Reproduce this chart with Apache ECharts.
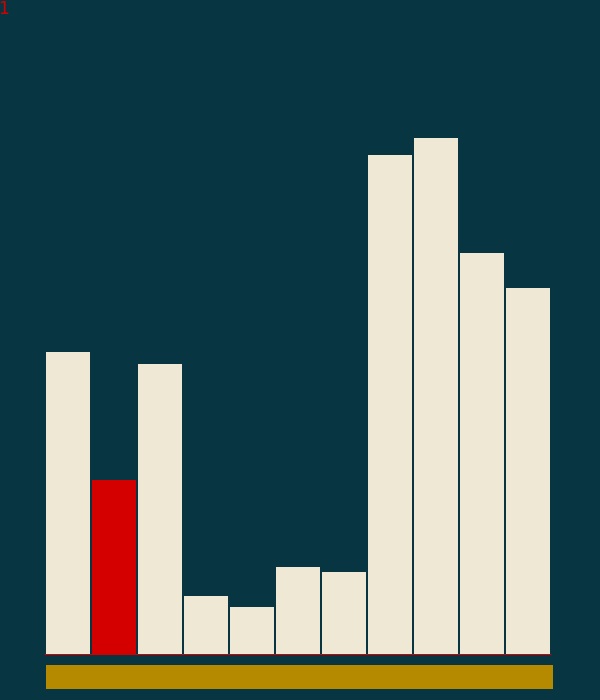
<!DOCTYPE html>
<html><head><meta charset="utf-8">
<script src="https://cdn.jsdelivr.net/npm/echarts@6/dist/echarts.min.js"></script>
<style>html,body{margin:0;padding:0;background:#073642}#c{width:600px;height:700px}</style>
</head><body><div id="c"></div>
<script>
const categories = ['0','1','2','3','4','5','6','7','8','9','10'];
const values = [302, 174, 290, 58, 47, 87, 82, 499, 516, 401, 366];
const highlightIndex = 1;
const stepLabel = '1';
const progressValue = [1];

const cream = '#eee8d5', red = '#d40000', gold = '#b58900', bg = '#073642';
const chart = echarts.init(document.getElementById('c'), null, {renderer:'canvas'});
chart.setOption({
  backgroundColor: bg,
  animation: false,
  title: {text: stepLabel, left: -1, top: 1, padding: 0, textStyle:{color: red, fontSize: 17, fontWeight:'normal', fontFamily:'DejaVu Sans'}},
  grid: [
    {left: 45, width: 506, top: 54, height: 600},
    {left: 46, width: 507, top: 665, height: 24}
  ],
  xAxis: [
    {type:'category', gridIndex:0, data: categories, axisLine:{show:true, lineStyle:{color:red, width:1}}, axisTick:{show:false}, axisLabel:{show:false}, splitLine:{show:false}},
    {type:'value', gridIndex:1, min:0, max:1, show:false}
  ],
  yAxis: [
    {type:'value', gridIndex:0, min:0, max:600, show:false},
    {type:'category', gridIndex:1, data:['p'], show:false}
  ],
  series: [
    {type:'bar', xAxisIndex:0, yAxisIndex:0, barWidth:44,
     data: values.map((v,i)=>({value:v, itemStyle:{color: i===highlightIndex?red:cream}}))},
    {type:'bar', xAxisIndex:1, yAxisIndex:1, barWidth:24, data: progressValue, itemStyle:{color:gold}}
  ]
});
</script></body></html>
